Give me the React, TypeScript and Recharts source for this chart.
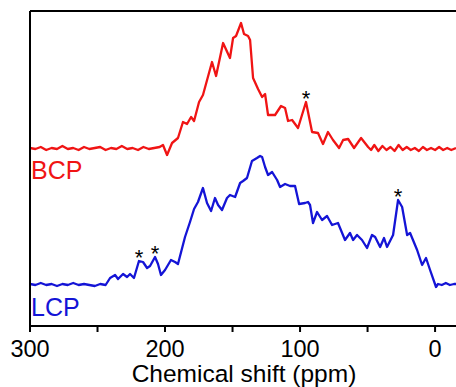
import { LineChart, Line, XAxis, YAxis, ReferenceLine, ReferenceDot } from 'recharts';

// chemical shift (ppm) and offset intensity
const bcpPpm = [
  300, 296, 292, 288, 284, 280, 276, 272, 268, 264, 260, 256, 252, 248, 244, 240, 236, 232, 228, 224, 220, 216, 212, 208, 204,
  201.5, 198.5, 194.8, 190.4, 186.7, 183.7, 180.7, 178.5, 174.8, 171.9, 165.2, 162.2, 157, 151.9, 149.6, 147.4, 143.7,
  141.5, 138.5, 137, 134.8, 131.1, 128.1, 125.9, 123.7, 118.5, 114.1, 111.1, 108.9, 105.9, 101.5, 95.6, 91.1, 86.7, 83,
  79.3, 75.6, 71.1, 68.1, 64.4, 60, 54.8, 49.6, 47.4,
  45, 42, 39, 36, 33, 30, 27, 24, 21, 18, 15, 12, 9, 6, 3, 0, -3, -6, -9, -12, -15.5,
];
const bcpVal = [
  178, 177, 179, 176, 178, 177, 180, 177, 178, 176, 179, 177, 178, 179, 176, 178, 177, 180, 177, 178, 176, 179, 177, 178, 179,
  181, 171, 183, 188, 204, 202, 209, 205, 224, 231, 264, 250, 283, 268, 288, 290, 303,
  292, 290, 286, 248, 237, 229, 232, 211, 211, 220, 218, 205, 206, 198, 224, 194, 193, 182,
  194, 186, 178, 186, 187, 178, 188, 179, 176,
  181, 175, 180, 176, 179, 175, 181, 176, 179, 176, 178, 175, 179, 176, 178, 176, 179, 176, 178, 176, 178,
];

const lcpPpm = [
  300, 296, 292, 288, 284, 280, 276, 272, 268, 264, 260, 256, 252, 248, 244,
  240.7, 237, 234.8, 231.1, 228.1, 225.9, 223, 219.3, 216.3, 213.3, 211.1, 207.4, 205.2, 203, 200, 195.6, 192.6, 190.4,
  185.2, 181.5, 178.5, 175.6, 171.9, 168.9, 165.9, 163, 160.7, 157.8, 154.1, 151.9, 148.1, 144.4, 142.2, 139.3, 135.6,
  131.9, 129.6, 128.1, 125.9, 123.7, 120.7, 117, 114.8, 111.1, 107.4, 103.7, 100.7, 96.3, 94.1, 92.6, 90.4, 87.4, 83.7,
  80, 76.3, 71.9, 66.7, 63, 60.7, 57.8, 54.1, 50.4, 46.7, 44.4, 40.7, 37.8, 35.6, 31.1, 27.4, 24.4, 20.7, 18.5, 13.3,
  9.6, 6.7, 3.7, -0.7, -2.2, -5, -8, -11, -14, -15.5,
];
const lcpVal = [
  42, 41, 43, 41, 42, 40, 42, 41, 43, 41, 42, 41, 40, 42, 41,
  48, 51, 47, 52, 49, 52, 48, 65, 64, 58, 60, 69, 62, 51, 56, 66, 64, 62,
  89, 104, 117, 124, 138, 123, 115, 128, 121, 116, 128, 131, 129, 143, 145, 148, 165,
  168, 170, 169, 159, 151, 154, 146, 139, 142, 140, 140, 122, 123, 124, 121, 103, 114, 106,
  110, 101, 103, 86, 93, 86, 91, 86, 78, 91, 89, 79, 88, 79, 91, 126, 119, 91, 93, 76,
  61, 68, 56, 39, 42, 41, 43, 41, 42, 42,
];

// spinning sidebands marked with asterisks: [ppm, intensity at peak]
const stars = [
  [95.6, 224],
  [219.3, 65],
  [207.4, 69],
  [27.4, 126],
];

const xTicks = [300, 250, 200, 150, 100, 50, 0];

const bcp = bcpPpm.map((p, i) => ({ ppm: p, v: bcpVal[i] }));
const lcp = lcpPpm.map((p, i) => ({ ppm: p, v: lcpVal[i] }));

const FONT = 'Arial, "Liberation Sans", sans-serif';
const RED = '#f01414';
const BLUE = '#1414d6';

const Star = (props: any) => (
  <text x={props.cx} y={props.cy + 4} textAnchor="middle" fontSize={22} fontFamily={FONT} fill="#000">*</text>
);

export default function App() {
  return (
    <div style={{ position: 'absolute', left: 0, top: 0, width: 456, height: 387, overflow: 'hidden', background: '#fff' }}>
      <LineChart width={456} height={387} margin={{ top: 11, right: 0, bottom: 0, left: 0 }}>
        <XAxis
          type="number"
          dataKey="ppm"
          domain={[-15.5, 300]}
          reversed
          allowDataOverflow
          ticks={xTicks}
          tickFormatter={(v: number) => (v % 100 === 0 ? String(v) : '')}
          height={61}
          tickSize={6}
          tickMargin={8}
          axisLine={{ stroke: '#000', strokeWidth: 2 }}
          tickLine={{ stroke: '#000', strokeWidth: 2 }}
          tick={{ fontSize: 23.5, fill: '#000', fontFamily: FONT }}
        />
        <YAxis
          type="number"
          domain={[0, 315]}
          allowDataOverflow
          width={30}
          tick={false}
          tickLine={false}
          axisLine={{ stroke: '#000', strokeWidth: 2 }}
        />
        <ReferenceLine y={315} stroke="#000" strokeWidth={2} />
        <Line data={bcp} dataKey="v" type="linear" stroke={RED} strokeWidth={2.3} strokeLinejoin="round" dot={false} isAnimationActive={false} />
        <Line data={lcp} dataKey="v" type="linear" stroke={BLUE} strokeWidth={2.3} strokeLinejoin="round" dot={false} isAnimationActive={false} />
        {stars.map(([p, v], i) => (
          <ReferenceDot key={i} x={p} y={v} r={0} shape={Star} />
        ))}
      </LineChart>
      <div style={{ position: 'absolute', left: 31, top: 158, fontFamily: FONT, fontSize: 25, lineHeight: '24px', color: RED }}>BCP</div>
      <div style={{ position: 'absolute', left: 31, top: 295, fontFamily: FONT, fontSize: 25, lineHeight: '24px', color: BLUE }}>LCP</div>
      <div style={{ position: 'absolute', left: 30, width: 428, top: 362, textAlign: 'center', fontFamily: FONT, fontSize: 24.5, lineHeight: '24px', color: '#000', whiteSpace: 'nowrap' }}>
        Chemical shift (ppm)
      </div>
    </div>
  );
}
